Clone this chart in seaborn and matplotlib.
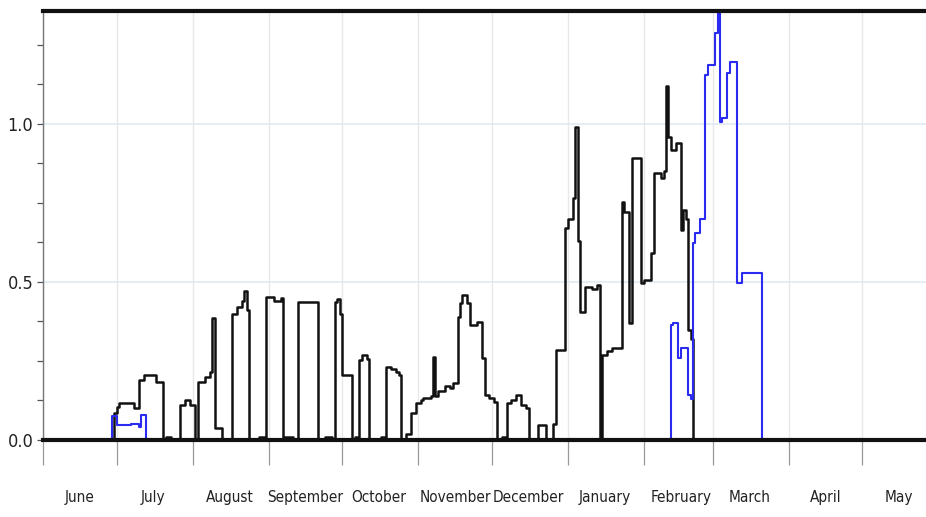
import seaborn as sns
import matplotlib.pyplot as plt
import matplotlib.dates as mdates
import pandas as pd

# black series: dates where the step changes and the value from that date on
black_dates = ['2018-06-01', '2018-06-30', '2018-07-01', '2018-07-02', '2018-07-08', '2018-07-10',
               '2018-07-12', '2018-07-17', '2018-07-20', '2018-07-21', '2018-07-23', '2018-07-27',
               '2018-07-29', '2018-07-31', '2018-08-02', '2018-08-03', '2018-08-06', '2018-08-08',
               '2018-08-09', '2018-08-10', '2018-08-13', '2018-08-17', '2018-08-19', '2018-08-21',
               '2018-08-22', '2018-08-23', '2018-08-24', '2018-08-28', '2018-08-30', '2018-08-31',
               '2018-09-03', '2018-09-06', '2018-09-07', '2018-09-11', '2018-09-13', '2018-09-21',
               '2018-09-24', '2018-09-27', '2018-09-28', '2018-09-29', '2018-09-30', '2018-10-01',
               '2018-10-05', '2018-10-06', '2018-10-07', '2018-10-08', '2018-10-09', '2018-10-11',
               '2018-10-12', '2018-10-17', '2018-10-18', '2018-10-19', '2018-10-21', '2018-10-23',
               '2018-10-24', '2018-10-25', '2018-10-27', '2018-10-29', '2018-10-31', '2018-11-02',
               '2018-11-03', '2018-11-06', '2018-11-07', '2018-11-08', '2018-11-09', '2018-11-12',
               '2018-11-14', '2018-11-15', '2018-11-17', '2018-11-18', '2018-11-19', '2018-11-21',
               '2018-11-22', '2018-11-25', '2018-11-27', '2018-11-28', '2018-11-30', '2018-12-02',
               '2018-12-03', '2018-12-05', '2018-12-07', '2018-12-09', '2018-12-11', '2018-12-13',
               '2018-12-15', '2018-12-16', '2018-12-20', '2018-12-23', '2018-12-26', '2018-12-27',
               '2018-12-31', '2019-01-01', '2019-01-03', '2019-01-04', '2019-01-05', '2019-01-06',
               '2019-01-08', '2019-01-11', '2019-01-13', '2019-01-14', '2019-01-15', '2019-01-17',
               '2019-01-19', '2019-01-23', '2019-01-24', '2019-01-26', '2019-01-27', '2019-01-31',
               '2019-02-01', '2019-02-04', '2019-02-05', '2019-02-08', '2019-02-09', '2019-02-10',
               '2019-02-11', '2019-02-12', '2019-02-14', '2019-02-16', '2019-02-17', '2019-02-18',
               '2019-02-19', '2019-02-20', '2019-02-21', '2019-05-27']
black_vals = [0.0, 0.084, 0.105, 0.117, 0.10, 0.19,
              0.205, 0.185, 0.0, 0.01, 0.0, 0.11,
              0.127, 0.11, 0.0, 0.185, 0.2, 0.216,
              0.385, 0.037, 0.0, 0.40, 0.42, 0.44,
              0.47, 0.41, 0.0, 0.01, 0.0, 0.453,
              0.44, 0.45, 0.01, 0.0, 0.438, 0.0,
              0.01, 0.0, 0.438, 0.445, 0.40, 0.206,
              0.0, 0.01, 0.0, 0.253, 0.27, 0.255,
              0.0, 0.01, 0.0, 0.232, 0.225, 0.215,
              0.205, 0.0, 0.02, 0.084, 0.117, 0.125,
              0.133, 0.14, 0.264, 0.14, 0.155, 0.17,
              0.165, 0.18, 0.39, 0.433, 0.459, 0.433,
              0.364, 0.373, 0.26, 0.142, 0.133, 0.12,
              0.0, 0.01, 0.117, 0.125, 0.142, 0.11,
              0.1, 0.0, 0.047, 0.0, 0.05, 0.285,
              0.67, 0.70, 0.766, 0.99, 0.628, 0.406,
              0.485, 0.478, 0.49, 0.0, 0.269, 0.28,
              0.29, 0.754, 0.72, 0.369, 0.891, 0.496,
              0.506, 0.59, 0.844, 0.83, 0.85, 1.12,
              0.96, 0.918, 0.94, 0.664, 0.728, 0.70,
              0.348, 0.32, 0.0, 0.0]

# blue series
blue_dates = ['2018-06-01', '2018-06-29', '2018-07-01', '2018-07-07', '2018-07-10', '2018-07-11',
              '2018-07-13', '2019-02-12', '2019-02-13', '2019-02-15', '2019-02-16', '2019-02-19',
              '2019-02-20', '2019-02-21', '2019-02-22', '2019-02-24', '2019-02-26', '2019-02-27',
              '2019-03-02', '2019-03-03', '2019-03-04', '2019-03-05', '2019-03-07', '2019-03-08',
              '2019-03-11', '2019-03-13', '2019-03-21', '2019-05-27']
blue_vals = [0.0, 0.075, 0.047, 0.052, 0.042, 0.08,
             0.0, 0.364, 0.37, 0.259, 0.29, 0.142,
             0.13, 0.623, 0.655, 0.70, 1.155, 1.187,
             1.288, 1.36, 1.007, 1.02, 1.16, 1.197,
             0.496, 0.528, 0.0, 0.0]

df_black = pd.DataFrame({'date': pd.to_datetime(black_dates), 'value': black_vals})
df_blue = pd.DataFrame({'date': pd.to_datetime(blue_dates), 'value': blue_vals})

sns.set_style("white")
plt.rcParams['font.family'] = ['DejaVu Sans']
plt.rcParams['font.stretch'] = 'condensed'

fig, ax = plt.subplots(figsize=(9.26, 5.17), dpi=100)
fig.subplots_adjust(left=43/926, right=1.0, top=1-11/517, bottom=1-440/517)

sns.lineplot(data=df_black, x='date', y='value', color='#111111', linewidth=1.8,
             drawstyle='steps-post', sort=False, estimator=None, ax=ax, zorder=3)
sns.lineplot(data=df_blue, x='date', y='value', color='#2a2af0', linewidth=1.5,
             drawstyle='steps-post', sort=False, estimator=None, ax=ax, zorder=4)

ax.set_xlim(pd.Timestamp('2018-06-01'), pd.Timestamp('2019-05-27'))
ax.set_ylim(0, 1.357)

# month boundaries as long ticks, month names in the middle
ax.xaxis.set_major_locator(mdates.MonthLocator(bymonthday=1))
ax.xaxis.set_major_formatter(plt.NullFormatter())
ax.xaxis.set_minor_locator(mdates.MonthLocator(bymonthday=16))
ax.xaxis.set_minor_formatter(mdates.DateFormatter('%B'))
ax.tick_params(axis='x', which='major', bottom=True, length=18, width=0.9, color='#999999')
ax.tick_params(axis='x', which='minor', bottom=True, length=0, pad=36, labelsize=11, labelcolor='#222222')

ax.set_yticks([0.0, 0.5, 1.0])
ax.set_yticklabels(['0.0', '0.5', '1.0'])
ax.set_yticks([i * 0.125 for i in range(11)], minor=True)
ax.tick_params(axis='y', which='both', left=True, length=4, width=0.9, color='#555555',
               labelsize=13, labelcolor='#222222', pad=3)

ax.grid(axis='x', which='major', color='#e8e8e8', linewidth=1)
ax.grid(axis='y', which='major', color='#e2ebf3', linewidth=1.3)

ax.spines['right'].set_visible(False)
ax.spines['top'].set_linewidth(3)
ax.spines['top'].set_color('#111111')
ax.spines['bottom'].set_linewidth(3)
ax.spines['bottom'].set_color('#111111')
ax.spines['left'].set_linewidth(1)
ax.spines['left'].set_color('#777777')
for s in ax.spines.values():
    s.set_zorder(5)

ax.set_xlabel('')
ax.set_ylabel('')

plt.savefig("out.png", dpi=100)
